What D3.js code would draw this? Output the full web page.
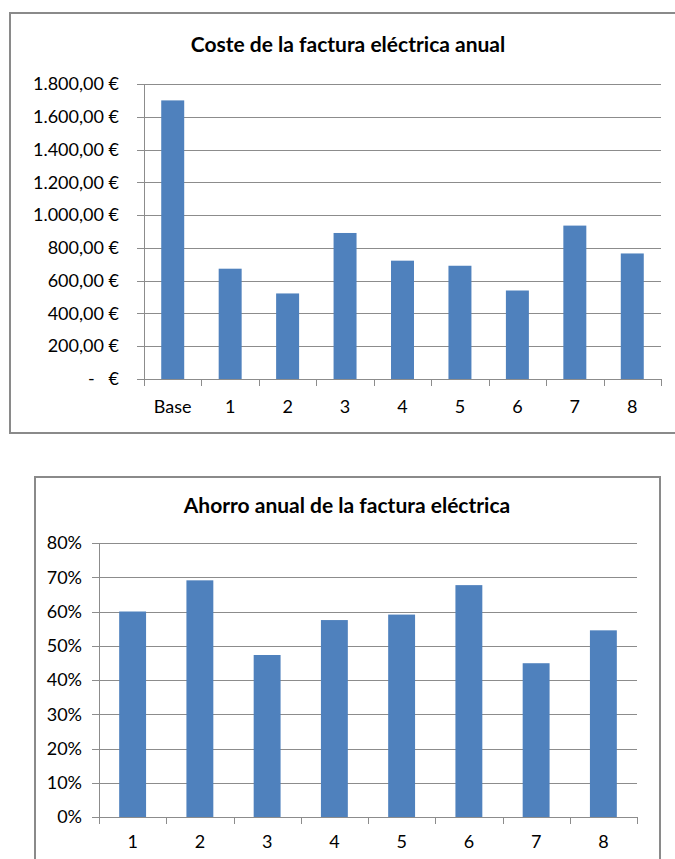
<!DOCTYPE html>
<html lang="es">
<head>
  <meta charset="utf-8">
  <title>Factura eléctrica</title>
  <style>
    body {
      margin: 0;
      background: #fff;
    }

    svg text {
      font-family: Lato, "Open Sans", sans-serif;
      fill: #000;
    }

    .title {
      font-weight: bold;
      font-size: 21px;
    }

    .axis text {
      font-size: 18px;
    }

    .grid line {
      stroke: #8c8c8c;
      shape-rendering: crispEdges;
    }

    .axis path,
    .axis line {
      stroke: #8c8c8c;
      shape-rendering: crispEdges;
    }

    .bar {
      fill: #4f81bd;
    }

    .frame {
      fill: none;
      stroke: #8a8a8a;
      stroke-width: 2;
    }
  </style>
</head>
<body>
  <div id="chart"></div>
  <script src="https://d3js.org/d3.v7.min.js"></script>
  <script>
    // data
    let costCategories = ["Base", "1", "2", "3", "4", "5", "6", "7", "8"];
    let costValues = [1700, 673, 522, 891, 722, 691, 540, 936, 766];
    let costTicks = [0, 200, 400, 600, 800, 1000, 1200, 1400, 1600, 1800];

    let savingCategories = ["1", "2", "3", "4", "5", "6", "7", "8"];
    let savingValues = [0.600, 0.691, 0.473, 0.575, 0.591, 0.677, 0.449, 0.545];
    let savingTicks = [0, 0.1, 0.2, 0.3, 0.4, 0.5, 0.6, 0.7, 0.8];

    let es = d3.formatLocale({
      decimal: ",",
      thousands: ".",
      grouping: [3],
      currency: ["", " €"]
    });
    let euro = (d) => d === 0 ? "-   €" : es.format("$,.2f")(d);
    let pct = d3.format(".0%");

    let svg = d3.select("#chart")
      .append("svg")
      .attr("width", 675)
      .attr("height", 859);

    function drawChart(cfg) {
      let g = svg.append("g");

      // outer frame
      g.append("rect")
        .attr("class", "frame")
        .attr("x", cfg.frame[0])
        .attr("y", cfg.frame[1])
        .attr("width", cfg.frame[2])
        .attr("height", cfg.frame[3]);

      g.append("text")
        .attr("class", "title")
        .attr("x", cfg.titleX)
        .attr("y", cfg.titleY)
        .attr("text-anchor", "middle")
        .text(cfg.title);

      let x = d3.scaleBand()
        .domain(cfg.categories)
        .range([cfg.left, cfg.right])
        .paddingInner(0.6)
        .paddingOuter(0.3);

      let y = d3.scaleLinear()
        .domain([0, d3.max(cfg.ticks)])
        .range([cfg.bottom, cfg.top]);

      // gridlines
      g.append("g")
        .attr("class", "grid")
        .selectAll("line")
        .data(cfg.ticks.filter((d) => d > 0))
        .enter()
        .append("line")
        .attr("x1", cfg.left)
        .attr("x2", cfg.right)
        .attr("y1", (d) => Math.round(y(d)) + 0.5)
        .attr("y2", (d) => Math.round(y(d)) + 0.5);

      g.selectAll(".bar")
        .data(cfg.values)
        .enter()
        .append("rect")
        .attr("class", "bar")
        .attr("x", (d, i) => x(cfg.categories[i]))
        .attr("width", x.bandwidth())
        .attr("y", (d) => y(d))
        .attr("height", (d) => y(0) - y(d));

      // y axis
      let yAxis = g.append("g")
        .attr("class", "axis")
        .attr("transform", "translate(" + cfg.left + ",0)")
        .call(d3.axisLeft(y).tickValues(cfg.ticks).tickFormat(cfg.format)
          .tickSizeInner(7).tickSizeOuter(0).tickPadding(cfg.yPad));
      yAxis.selectAll("text").style("white-space", "pre");

      // x axis, ticks at the band edges
      let step = x.step();
      let edges = d3.range(cfg.categories.length + 1).map((i) => cfg.left + i * step);
      let xAxis = g.append("g")
        .attr("class", "axis")
        .attr("transform", "translate(0," + cfg.bottom + ")");
      xAxis.append("path")
        .attr("d", "M" + cfg.left + ",0.5H" + cfg.right);
      xAxis.selectAll(".edge")
        .data(edges)
        .enter()
        .append("line")
        .attr("class", "edge")
        .attr("x1", (d) => Math.round(d) + 0.5)
        .attr("x2", (d) => Math.round(d) + 0.5)
        .attr("y1", 0)
        .attr("y2", 7);
      xAxis.selectAll(".lbl")
        .data(cfg.categories)
        .enter()
        .append("text")
        .attr("class", "lbl")
        .attr("x", (d) => x(d) + x.bandwidth() / 2)
        .attr("y", cfg.labelY)
        .attr("text-anchor", "middle")
        .text((d) => d);
    }

    drawChart({
      title: "Coste de la factura eléctrica anual",
      categories: costCategories,
      values: costValues,
      ticks: costTicks,
      format: euro,
      frame: [10, 13, 680, 420],
      titleX: 348,
      titleY: 52,
      left: 144,
      right: 661,
      top: 84,
      bottom: 379,
      yPad: 18,
      labelY: 34
    });

    drawChart({
      title: "Ahorro anual de la factura eléctrica",
      categories: savingCategories,
      values: savingValues,
      ticks: savingTicks,
      format: pct,
      frame: [35, 477, 625, 400],
      titleX: 347,
      titleY: 513,
      left: 99,
      right: 637,
      top: 543,
      bottom: 817,
      yPad: 10,
      labelY: 31
    });
  </script>
</body>
</html>
